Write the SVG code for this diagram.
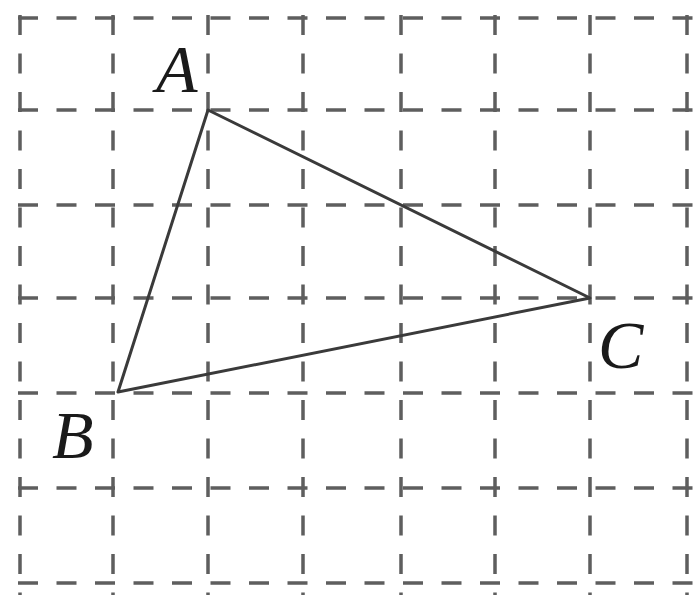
<svg xmlns="http://www.w3.org/2000/svg" width="697" height="595" viewBox="0 0 697 595">
<style>
.g line{stroke:#5e5e5e;stroke-width:3.5;stroke-dasharray:20 18.5;fill:none}
.t{stroke:#3a3a3a;stroke-width:3;fill:none;stroke-linejoin:round}
.l{font-family:"Liberation Serif",serif;font-style:italic;font-size:68px;fill:#1a1a1a}
</style>
<rect width="697" height="595" fill="#fff"/>
<g id="grid" class="g">
<line x1="18" y1="18" x2="697" y2="18"/>
<line x1="18" y1="110" x2="697" y2="110"/>
<line x1="18" y1="205" x2="697" y2="205"/>
<line x1="18" y1="298" x2="697" y2="298"/>
<line x1="18" y1="393" x2="697" y2="393"/>
<line x1="18" y1="488" x2="697" y2="488"/>
<line x1="18" y1="583" x2="697" y2="583"/>
<line x1="20" y1="15" x2="20" y2="595"/>
<line x1="113" y1="15" x2="113" y2="595"/>
<line x1="208" y1="15" x2="208" y2="595"/>
<line x1="303" y1="15" x2="303" y2="595"/>
<line x1="401" y1="15" x2="401" y2="595"/>
<line x1="495" y1="15" x2="495" y2="595"/>
<line x1="590" y1="15" x2="590" y2="595"/>
<line x1="687" y1="15" x2="687" y2="595"/>
</g>
<g id="connectors">
<polygon class="t" points="208,110 118,392 590,298"/>
</g>
<g id="A"><text class="l" x="156" y="92">A</text></g>
<g id="B"><text class="l" x="52" y="458">B</text></g>
<g id="C"><text class="l" x="598" y="368">C</text></g>
</svg>
